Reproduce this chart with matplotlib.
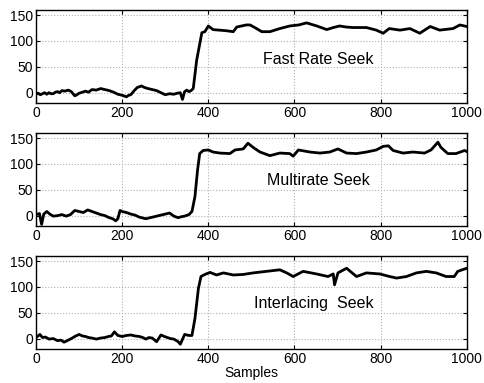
import matplotlib
matplotlib.use("Agg")
import matplotlib.pyplot as plt

plt.rcParams['font.family'] = ['Liberation Sans', 'DejaVu Sans']

# Fast Rate Seek (sample index, value)
fast_x = [0, 5, 10, 15, 20, 25, 30, 35, 40, 45, 50, 55, 60, 67, 75, 82, 90, 95, 100,
          108, 115, 122, 130, 140, 150, 160, 170, 180, 190, 200, 210, 215, 220,
          228, 235, 245, 252, 260, 270, 280, 290, 300, 310, 320, 328, 335, 340, 345,
          350, 355, 360, 365, 373, 385, 392,
          400, 411, 425, 440, 458, 466, 488, 497, 510, 524, 543, 566, 589, 610, 628,
          652, 675, 690, 705, 720, 736, 767, 790, 806, 820, 845, 868, 891, 915, 937,
          968, 984, 1000]
fast_y = [-3, -1, -4, -2, 0, -3, 0, -2, -2, 1, 2, 0, 4, 3, 5, 2, -6, -4, -1,
          1, 3, 1, 6, 5, 8, 6, 4, 1, -3, -5, -8, -5, -4,
          4, 10, 13, 10, 8, 6, 4, 0, -4, -2, -3, -1, 0, -13, 2,
          5, 2, 4, 8, 63, 116, 118,
          129, 122, 121, 120, 118, 127, 131, 131, 125, 118, 118, 124, 129, 131, 135,
          129, 122, 126, 129, 127, 126, 126, 121, 115, 124, 121, 124, 115, 128, 121,
          124, 131, 128]

# Multirate Seek
multi_x = [0, 8, 13, 18, 25, 32, 40, 50, 60, 70, 80, 90, 100, 110, 120, 130, 140,
           150, 160, 170, 178, 185, 190, 195, 200, 210, 220, 230, 240, 255, 270, 280,
           290, 300, 310, 320, 330, 338, 345, 355, 362, 369, 375,
           380, 388, 400, 411, 427, 450, 462, 481, 492, 504, 520, 543, 566, 589, 597,
           609, 636, 659, 682, 701, 721, 744, 767, 790, 806, 818, 829, 852, 875, 902,
           917, 933, 940, 956, 975, 995, 1000]
multi_y = [2, 4, -17, 3, 8, 3, -1, 0, 2, -1, 2, 10, 8, 6, 11, 8, 5,
           2, 0, -4, -6, -10, -6, 10, 8, 6, 3, 1, -3, -6, -3, -1,
           1, 3, 5, -1, -4, -2, -1, 2, 8, 37, 88,
           120, 126, 127, 123, 121, 120, 127, 129, 140, 132, 123, 116, 121, 120, 115,
           127, 123, 121, 123, 129, 121, 120, 123, 127, 134, 135, 126, 121, 123, 121,
           127, 142, 132, 120, 120, 126, 124]

# Interlacing Seek
inter_x = [0, 9, 15, 22, 30, 40, 50, 58, 65, 75, 82, 90, 100, 108, 115, 122, 130, 140,
           150, 160, 168, 175, 182, 190, 200, 210, 220, 230, 240, 248, 255, 262, 270,
           280, 290, 298, 305, 312, 320, 330, 335, 345, 355, 362, 369, 377,
           383, 392, 404, 419, 435, 458, 481, 504, 535, 566, 582, 597, 620, 651, 678,
           690, 693, 701, 721, 744, 767, 798, 821, 837, 860, 883, 906, 929, 952, 971,
           979, 1000]
inter_y = [2, 8, 2, 3, -1, 0, -4, -3, -7, -3, 0, 4, 8, 5, 4, 2, 1, -1,
           1, 2, 4, 5, 13, 6, 4, 6, 7, 5, 4, 2, -1, 2, 1,
           -6, 7, 4, 2, 0, -1, -6, -11, 8, 6, 6, 39, 97,
           120, 124, 128, 123, 127, 123, 124, 127, 130, 133, 127, 120, 130, 125, 120,
           125, 104, 127, 136, 120, 127, 125, 120, 117, 120, 127, 130, 127, 120, 120,
           130, 136]

series = [(fast_x, fast_y, 'Fast Rate Seek'),
          (multi_x, multi_y, 'Multirate Seek'),
          (inter_x, inter_y, 'Interlacing  Seek')]
bottoms = [0.731, 0.410, 0.089]
label_pos = [(655, 65), (655, 67), (646, 67)]

fig = plt.figure(figsize=(4.84, 3.83), dpi=100)
for i, (xs, ys, name) in enumerate(series):
    ax = fig.add_axes([0.0744, bottoms[i], 0.890, 0.243])
    ax.plot(xs, ys, color='black', lw=2.0)
    ax.set_xlim(0, 1000)
    ax.set_ylim(-20, 160)
    ax.set_xticks([0, 200, 400, 600, 800, 1000])
    ax.set_yticks([0, 50, 100, 150])
    ax.grid(True, linestyle=':', color='#b0b0b0', lw=0.8)
    ax.tick_params(direction='in', top=True, right=True, labelsize=10, length=3, pad=2)
    for sp in ax.spines.values():
        sp.set_linewidth(1.0)
    ax.text(label_pos[i][0], label_pos[i][1], name, ha='center', va='center', fontsize=11.5)
    if i == 2:
        ax.set_xlabel('Samples', fontsize=10, labelpad=0)

fig.savefig('out.png', dpi=100)
